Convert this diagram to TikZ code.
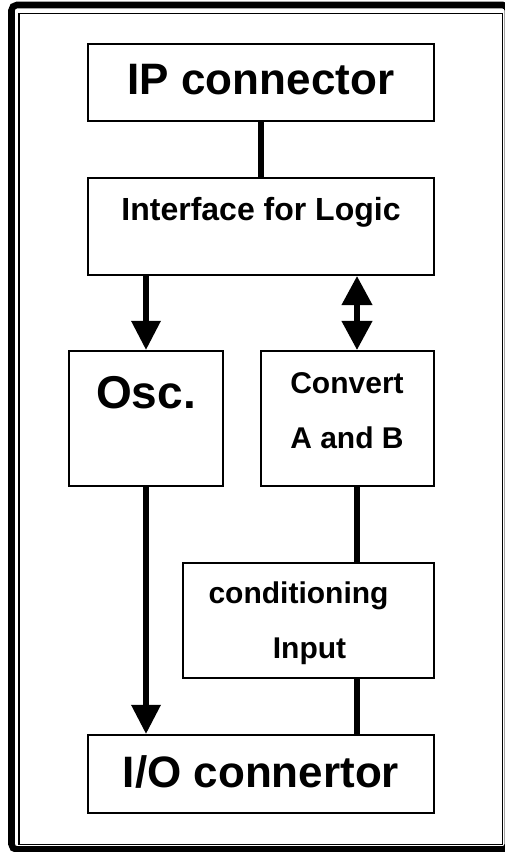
\documentclass[tikz,border=0pt]{standalone}
\usepackage{fontspec}
\setmainfont{Liberation Sans}
\usetikzlibrary{positioning,calc,arrows.meta}

\tikzset{
  blk/.style={draw, line width=1.3pt, inner sep=0pt},
  bar/.style={line width=4.9pt},
  arr/.style={bar, -{Triangle[width=21pt,length=22pt]}},
  dblarr/.style={bar, {Triangle[width=22pt,length=22pt]}-{Triangle[width=22pt,length=22pt]}},
  lbl/.style={anchor=base, inner sep=0pt, font=\bfseries},
}

\begin{document}
\begin{tikzpicture}[x=0.75pt,y=0.75pt,yscale=-1,xscale=1]
  \useasboundingbox (0,0) rectangle (504,852);

  % double frame round the board
  \draw [line width=4.9pt, rounded corners=4pt] (11.5,5) rectangle (508,849.5);
  \draw [line width=1.2pt] (19,13.5) rectangle (502.5,844.5);

  % Blocks
  \node [blk, minimum width=346*0.75pt, minimum height=77*0.75pt] (ip) at (261,82.5) {};
  \node [blk, minimum width=346*0.75pt, minimum height=97*0.75pt] (iface) at (261,226.5) {};
  \node [blk, minimum width=154*0.75pt, minimum height=135*0.75pt] (osc) at (146,418.5) {};
  \node [blk, minimum width=173*0.75pt, minimum height=135*0.75pt] (conv) at (347.5,418.5) {};
  \node [blk, minimum width=251*0.75pt, minimum height=115*0.75pt] (cond) at (308.5,620.5) {};
  \node [blk, minimum width=346*0.75pt, minimum height=78*0.75pt] (io) at (261,774) {};

  % Text Node
  \node [lbl, font=\bfseries\fontsize{33}{33}\selectfont] (iptxt) at (261,95) {IP connector};
  % Text Node
  \node [lbl, font=\bfseries\fontsize{24}{24}\selectfont] (ifacetxt) at (261,221) {Interface for Logic};
  % Text Node
  \node [lbl, font=\bfseries\fontsize{34.5}{34.5}\selectfont] (osctxt) at (146,408) {Osc.};
  % Text Node
  \node [lbl, font=\bfseries\fontsize{22.5}{22.5}\selectfont] (convtxta) at (347,393) {Convert};
  \node [lbl, font=\bfseries\fontsize{22.5}{22.5}\selectfont] (convtxtb) at (347,448) {A and B};
  % Text Node
  \node [lbl, font=\bfseries\fontsize{22.5}{22.5}\selectfont] (condtxta) at (298.5,603) {conditioning};
  \node [lbl, font=\bfseries\fontsize{22.5}{22.5}\selectfont] (condtxtb) at (309.5,658) {Input};
  % Text Node
  \node [lbl, font=\bfseries\fontsize{33}{33}\selectfont] (iotxt) at (261,787) {I/O connertor};

  % signal lines
  \coordinate (bus) at (357,0);
  \draw [bar] (ip.south) -- (iface.north);
  \draw [arr] (iface.south -| osc.north) -- (osc.north);
  \draw [dblarr] (iface.south -| bus) -- (conv.north -| bus);
  \draw [bar] (conv.south -| bus) -- (cond.north -| bus);
  \draw [bar] (cond.south -| bus) -- (io.north -| bus);
  \draw [arr] (osc.south) -- (io.north -| osc.south);
\end{tikzpicture}
\end{document}
